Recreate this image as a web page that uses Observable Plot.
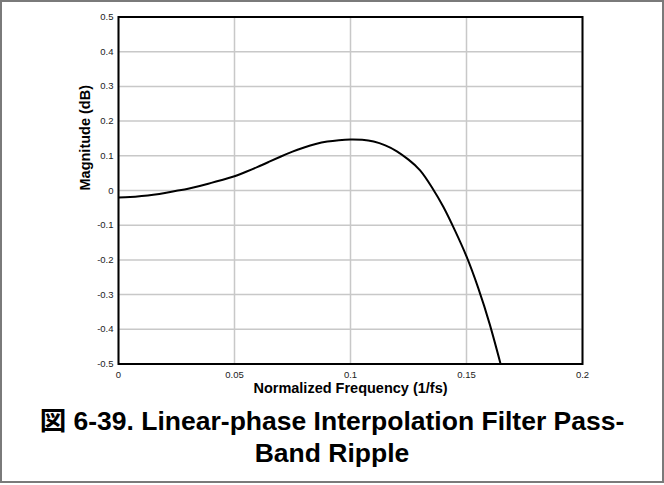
<!DOCTYPE html>
<html>
<head>
<meta charset="utf-8">
<script src="https://cdn.jsdelivr.net/npm/d3@7"></script>
<script src="https://cdn.jsdelivr.net/npm/@observablehq/plot@0.6"></script>
<style>
  html, body { margin: 0; padding: 0; background: #fff; }
  #wrap { position: relative; width: 664px; height: 485px; overflow: hidden; font-family: "Liberation Sans", Arial, "Noto Sans CJK JP", sans-serif; }
  #border { position: absolute; left: 0; top: 0; width: 664px; height: 483px; box-sizing: border-box; border: 2px solid #7a7a7a; }
  #chart { position: absolute; left: 0; top: 0; }
  #title { position: absolute; left: 0; top: 405px; width: 664px; text-align: center; font-weight: bold; font-size: 26.5px; line-height: 32px; color: #000; }
</style>
</head>
<body>
<div id="wrap">
  <div id="border"></div>
  <div id="chart"></div>
  <div id="title">図 6-39. Linear-phase Interpolation Filter Pass-<br>Band Ripple</div>
</div>
<script>
// Normalized frequency (1/fs)
const freq = [0, 0.005, 0.01, 0.015, 0.02, 0.025, 0.03, 0.035, 0.04, 0.045, 0.05, 0.055, 0.06, 0.065, 0.07, 0.075, 0.08, 0.085, 0.09, 0.095, 0.1, 0.105, 0.11, 0.115, 0.12, 0.125, 0.13, 0.135, 0.14, 0.145, 0.15, 0.155, 0.16, 0.1647];
// Magnitude (dB)
const magnitude = [-0.020, -0.019, -0.016, -0.012, -0.007, -0.001, 0.005, 0.013, 0.022, 0.031, 0.041, 0.054, 0.068, 0.083, 0.098, 0.112, 0.124, 0.134, 0.141, 0.145, 0.147, 0.146, 0.141, 0.130, 0.113, 0.089, 0.058, 0.010, -0.047, -0.115, -0.190, -0.280, -0.385, -0.500];

const xTicks = [0, 0.05, 0.1, 0.15, 0.2];
const yTicks = [-0.5, -0.4, -0.3, -0.2, -0.1, 0, 0.1, 0.2, 0.3, 0.4, 0.5];
const xLabel = "Normalized Frequency (1/fs)";
const yLabel = "Magnitude (dB)";

const data = freq.map((f, i) => ({f, m: magnitude[i]}));

const chart = Plot.plot({
  width: 664,
  height: 400,
  marginLeft: 118,
  marginRight: 82,
  marginTop: 16.5,
  marginBottom: 36.5,
  style: { fontFamily: "'Liberation Sans', Arial, sans-serif", background: "transparent", color: "#222" },
  x: { domain: [0, 0.2] },
  y: { domain: [-0.5, 0.5] },
  marks: [
    Plot.gridX(xTicks, { stroke: "#c8c8c8", strokeOpacity: 1, strokeWidth: 1.5 }),
    Plot.gridY(yTicks, { stroke: "#c8c8c8", strokeOpacity: 1, strokeWidth: 1.5 }),
    Plot.axisX(xTicks, { tickSize: 0, tickPadding: 7, fontSize: 9.5, tickFormat: d => String(d), label: null }),
    Plot.axisY(yTicks, { tickSize: 0, tickPadding: 5, fontSize: 9.5, tickFormat: d => String(d), label: null }),
    Plot.line(data, { x: "f", y: "m", curve: "natural", stroke: "black", strokeWidth: 2, clip: true }),
    Plot.frame({ stroke: "black", strokeWidth: 2 }),
    Plot.text([yLabel], { frameAnchor: "left", rotate: -90, dx: -33, fontWeight: "bold", fontSize: 14.5, fill: "black" }),
    Plot.text([xLabel], { frameAnchor: "bottom", dy: 29, fontWeight: "bold", fontSize: 14.5, fill: "black" })
  ]
});
document.getElementById("chart").appendChild(chart);
</script>
</body>
</html>
